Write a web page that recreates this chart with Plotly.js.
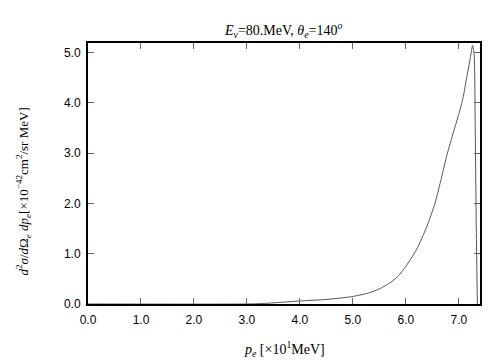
<!DOCTYPE html>
<html>
<head>
<meta charset="utf-8">
<script src="https://cdn.plot.ly/plotly-3.0.1.min.js"></script>
<style>html,body{margin:0;padding:0;background:#fff;}#chart{width:504px;height:360px;}</style>
</head>
<body>
<div id="chart"></div>
<script>
// electron momentum p_e [x10 MeV]
const momentum = [0.0, 3.0, 3.3, 3.6, 4.0, 4.5, 5.0, 5.3, 5.5, 5.7, 5.85, 6.0, 6.2, 6.4, 6.55, 6.67, 6.78, 6.9, 7.0, 7.08, 7.14, 7.21, 7.26, 7.29, 7.31, 7.33, 7.35];
// cross section [x10^-42 cm^2/sr MeV]
const crossSection = [0.0, 0.0, 0.01, 0.03, 0.06, 0.09, 0.15, 0.22, 0.30, 0.42, 0.55, 0.75, 1.08, 1.55, 2.0, 2.5, 2.98, 3.42, 3.78, 4.1, 4.45, 4.85, 5.14, 4.95, 3.5, 1.5, 0.0];
const xTickVals = [0, 1, 2, 3, 4, 5, 6, 7];
const yTickVals = [0, 1, 2, 3, 4, 5];

const trace = {
  x: momentum, y: crossSection, type: 'scatter', mode: 'lines',
  line: {color: '#555555', width: 1, shape: 'spline', smoothing: 0.6}, hoverinfo: 'none'
};

const tickFont = {family: 'Liberation Sans, Arial, sans-serif', size: 12, color: '#000'};
const serif = 'Liberation Serif, Times New Roman, serif';

const layout = {
  width: 504, height: 360,
  margin: {l: 88, r: 24, t: 43, b: 56},
  paper_bgcolor: '#fff', plot_bgcolor: '#fff',
  showlegend: false,
  xaxis: {
    range: [0, 7.4], tickvals: xTickVals, tickformat: '.1f',
    ticks: 'inside', ticklen: 6, tickwidth: 1, tickcolor: '#666',
    showline: true, linewidth: 2, linecolor: '#000', mirror: 'ticks',
    showgrid: false, zeroline: false, tickfont: tickFont, ticklabelstandoff: 4
  },
  yaxis: {
    range: [0, 5.19], tickvals: yTickVals, tickformat: '.1f',
    ticks: 'inside', ticklen: 6, tickwidth: 1, tickcolor: '#666',
    showline: true, linewidth: 2, linecolor: '#000', mirror: 'ticks',
    showgrid: false, zeroline: false, tickfont: tickFont, ticklabelstandoff: 3
  },
  annotations: [
    {text: '<i>E</i><sub><i>ν</i></sub>=80.MeV, <i>θ</i><sub><i>e</i></sub>=140<sup><i>o</i></sup>',
     xref: 'paper', yref: 'paper', x: 0.497, y: 1, yshift: 25, showarrow: false,
     font: {family: serif, size: 14, color: '#000'}},
    {text: '<i>p</i><sub><i>e</i></sub> [×10<sup>1</sup>MeV]',
     xref: 'paper', yref: 'paper', x: 0.5, y: 0, yshift: -57, showarrow: false,
     font: {family: serif, size: 14, color: '#000'}},
    {text: '<i>d</i><sup>2</sup><i>σ</i>/<i>d</i>Ω<sub><i>e</i></sub> <i>dp</i><sub><i>e</i></sub>[×10<sup>−42</sup>cm<sup>2</sup>/sr MeV]',
     xref: 'paper', yref: 'paper', x: 0, y: 0.5, xshift: -76, yshift: -18, textangle: -90, showarrow: false,
     font: {family: serif, size: 13, color: '#000'}}
  ]
};

Plotly.newPlot('chart', [trace], layout, {staticPlot: true, displayModeBar: false});
</script>
</body>
</html>
